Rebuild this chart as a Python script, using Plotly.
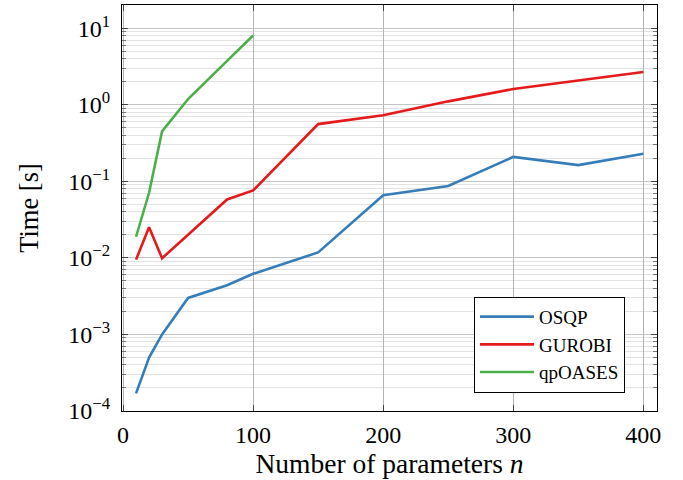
import plotly.graph_objects as go

n_osqp = [10, 20, 30, 50, 80, 100, 150, 200, 250, 300, 350, 400]
t_osqp = [1.7e-4, 5.0e-4, 1.0e-3, 3.0e-3, 4.4e-3, 6.2e-3, 0.0118, 0.066, 0.087, 0.209, 0.163, 0.229]

n_gurobi = [10, 20, 30, 50, 80, 100, 150, 200, 250, 300, 350, 400]
t_gurobi = [0.0095, 0.0252, 0.0099, 0.020, 0.058, 0.076, 0.56, 0.73, 1.11, 1.61, 2.07, 2.69]

n_qp = [10, 20, 30, 50, 80, 100]
t_qp = [0.0189, 0.071, 0.45, 1.19, 3.75, 8.05]

x_ticks = [0, 100, 200, 300, 400]
y_ticks = [1e-4, 1e-3, 1e-2, 1e-1, 1, 10]
y_labels = ["10<sup>−4</sup>", "10<sup>−3</sup>", "10<sup>−2</sup>", "10<sup>−1</sup>", "10<sup>0</sup>", "10<sup>1</sup>"]

minor_vals = [m * 10 ** e for e in range(-4, 2) for m in range(2, 10)]

FONT = "Liberation Serif"

fig = go.Figure()
fig.add_trace(go.Scatter(x=n_osqp, y=t_osqp, mode="lines", name="OSQP",
                         line=dict(color="#377eb8", width=2.6)))
fig.add_trace(go.Scatter(x=n_gurobi, y=t_gurobi, mode="lines", name="GUROBI",
                         line=dict(color="#e41a1c", width=2.6)))
fig.add_trace(go.Scatter(x=n_qp, y=t_qp, mode="lines", name="qpOASES",
                         line=dict(color="#4daf4a", width=2.6)))

fig.update_layout(
    width=683, height=480,
    margin=dict(l=122, r=26, t=5, b=69, autoexpand=False),
    plot_bgcolor="white", paper_bgcolor="white",
    font=dict(family=FONT, size=21, color="black"),
    showlegend=True,
    legend=dict(x=0.658, y=0.163, xanchor="left", yanchor="middle",
                bordercolor="black", borderwidth=1, bgcolor="white",
                font=dict(family=FONT, size=19), tracegroupgap=0,
                itemwidth=54),
    xaxis=dict(range=[-0.8, 410.5], tickvals=x_ticks, ticks="inside", ticklen=6,
               tickcolor="#444", showline=True, linecolor="black", linewidth=1,
               mirror="ticks", showgrid=True, gridcolor="#b4b4b4", gridwidth=1,
               zeroline=False, automargin=False, ticklabelstandoff=2,
               title=dict(text="Number of parameters <i>n</i>", font=dict(size=27.5), standoff=5),
               tickfont=dict(size=24)),
    yaxis=dict(type="log", range=[-4, 1.304], tickvals=y_ticks, ticktext=y_labels,
               ticks="inside", ticklen=6, tickcolor="#444", showline=True,
               linecolor="black", linewidth=1, mirror="ticks", showgrid=True,
               gridcolor="#c4c4c4", gridwidth=1, zeroline=False, automargin=False,
               ticklabelstandoff=6,
               minor=dict(tickvals=minor_vals, ticks="inside", ticklen=4,
                          tickcolor="#777", showgrid=True, gridcolor="#e2e2e2", gridwidth=1),
               title=dict(text="Time [s]", font=dict(size=26.5), standoff=22),
               tickfont=dict(size=24)),
)

fig.write_html("out.html", config={"displayModeBar": False},
               post_script="document.body.style.margin='0';document.body.style.overflow='hidden';")
